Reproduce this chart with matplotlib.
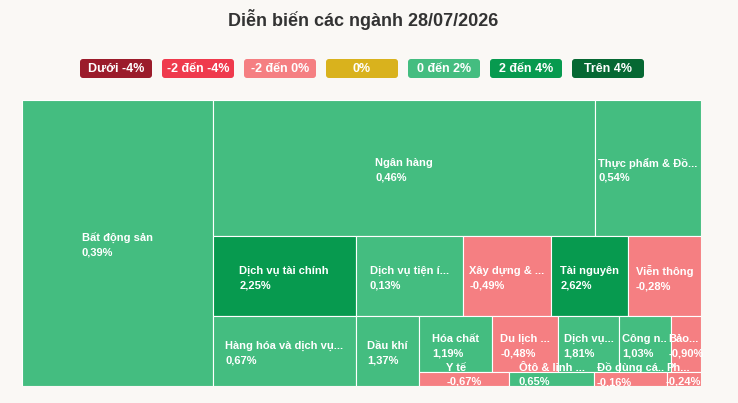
import matplotlib
matplotlib.use("Agg")
import matplotlib.pyplot as plt
from matplotlib.patches import Rectangle, FancyBboxPatch

plt.rcParams['font.family'] = ['Liberation Sans', 'DejaVu Sans']

# ---- data ----
title = "Diễn biến các ngành 28/07/2026"
sectors = ["Bất động sản", "Ngân hàng", "Thực phẩm & Đồ...", "Dịch vụ tài chính",
           "Dịch vụ tiện í...", "Xây dựng & ...", "Tài nguyên", "Viễn thông",
           "Hàng hóa và dịch vụ...", "Dầu khí", "Hóa chất", "Du lịch ...",
           "Dịch vụ...", "Công n..", "Bảo...", "Y tế", "Ôtô & linh ...",
           "Đồ dùng cá..", "Ph..."]
changes = [0.39, 0.46, 0.54, 2.25, 0.13, -0.49, 2.62, -0.28, 0.67, 1.37,
           1.19, -0.48, 1.81, 1.03, -0.90, -0.67, 0.65, -0.16, -0.24]
weights = [546, 520, 144, 114, 86, 70, 62, 58, 100, 44,
           41, 37, 34, 29, 17, 12.6, 11.9, 10.1, 4.8]
# how the tiles are nested: 'h' = side by side, 'v' = stacked
structure = ('h', [0, ('v', [('h', [1, 2]),
                             ('h', [3, 4, 5, 6, 7]),
                             ('h', [8, 9, ('v', [('h', [10, 11, 12, 13, 14]),
                                                 ('h', [15, 16, 17, 18])])])])])

legend_labels = ["Dưới -4%", "-2 đến -4%", "-2 đến 0%", "0%", "0 đến 2%", "2 đến 4%", "Trên 4%"]
legend_colors = ["#9b1c2b", "#ef3a4d", "#f57f82", "#d9b21d", "#44bd80", "#079a4f", "#066833"]

BG = "#faf8f5"


def color_for(v):
    if v < -4:
        return legend_colors[0]
    if v < -2:
        return legend_colors[1]
    if v < 0:
        return legend_colors[2]
    if v == 0:
        return legend_colors[3]
    if v < 2:
        return legend_colors[4]
    if v < 4:
        return legend_colors[5]
    return legend_colors[6]


def weight_of(node):
    if isinstance(node, int):
        return weights[node]
    return sum(weight_of(c) for c in node[1])


def layout(node, x0, y0, x1, y1, out):
    if isinstance(node, int):
        out[node] = (x0, y0, x1, y1)
        return
    direction, children = node
    total = weight_of(node)
    pos = x0 if direction == 'h' else y0
    for c in children:
        frac = weight_of(c) / total
        if direction == 'h':
            w = (x1 - x0) * frac
            layout(c, pos, y0, pos + w, y1, out)
        else:
            w = (y1 - y0) * frac
            layout(c, x0, pos, x1, pos + w, out)
        pos += w


W, H = 738, 403
fig = plt.figure(figsize=(W / 100, H / 100), dpi=100)
fig.patch.set_facecolor(BG)

# title + legend in pixel coordinates
top = fig.add_axes([0, 0, 1, 1])
top.set_xlim(0, W)
top.set_ylim(H, 0)
top.axis('off')
top.text(363, 19, title, ha='center', va='center', fontsize=13,
         fontweight='bold', color='#333333')

box_w, box_h, step = 72, 19, 82
start = 362 - (step * (len(legend_labels) - 1) + box_w) / 2
for i, (lab, col) in enumerate(zip(legend_labels, legend_colors)):
    x = start + i * step
    top.add_patch(FancyBboxPatch((x, 59), box_w, box_h,
                                 boxstyle="round,pad=0,rounding_size=3",
                                 fc=col, ec='none'))
    top.text(x + box_w / 2, 59 + box_h / 2 + 0.5, lab, ha='center', va='center',
             fontsize=9, fontweight='bold', color='white')

# treemap
AX_W, AX_H = 679, 286
ax = fig.add_axes([22 / W, (H - 386) / H, AX_W / W, AX_H / H])
ax.set_xlim(0, AX_W)
ax.set_ylim(AX_H, 0)
ax.axis('off')

rects = {}
layout(structure, 0, 0, AX_W, AX_H, rects)

for i, name in enumerate(sectors):
    x0, y0, x1, y1 = rects[i]
    ax.add_patch(Rectangle((x0, y0), x1 - x0, y1 - y0, fc=color_for(changes[i]),
                           ec='white', lw=0.8))
for i, name in enumerate(sectors):
    x0, y0, x1, y1 = rects[i]
    label = name + "\n" + f"{changes[i]:.2f}".replace('.', ',') + "%"
    cx, cy = (x0 + x1) / 2, (y0 + y1) / 2
    shift = 3 if (y1 - y0) < 25 else -1.5
    ax.annotate(label, xy=(cx, cy), xytext=(0, shift), textcoords='offset points',
                ha='center', va='center', multialignment='left', fontsize=8,
                fontweight='bold', color='white', linespacing=1.5,
                annotation_clip=False)

fig.savefig("out.png", dpi=100, facecolor=BG)
